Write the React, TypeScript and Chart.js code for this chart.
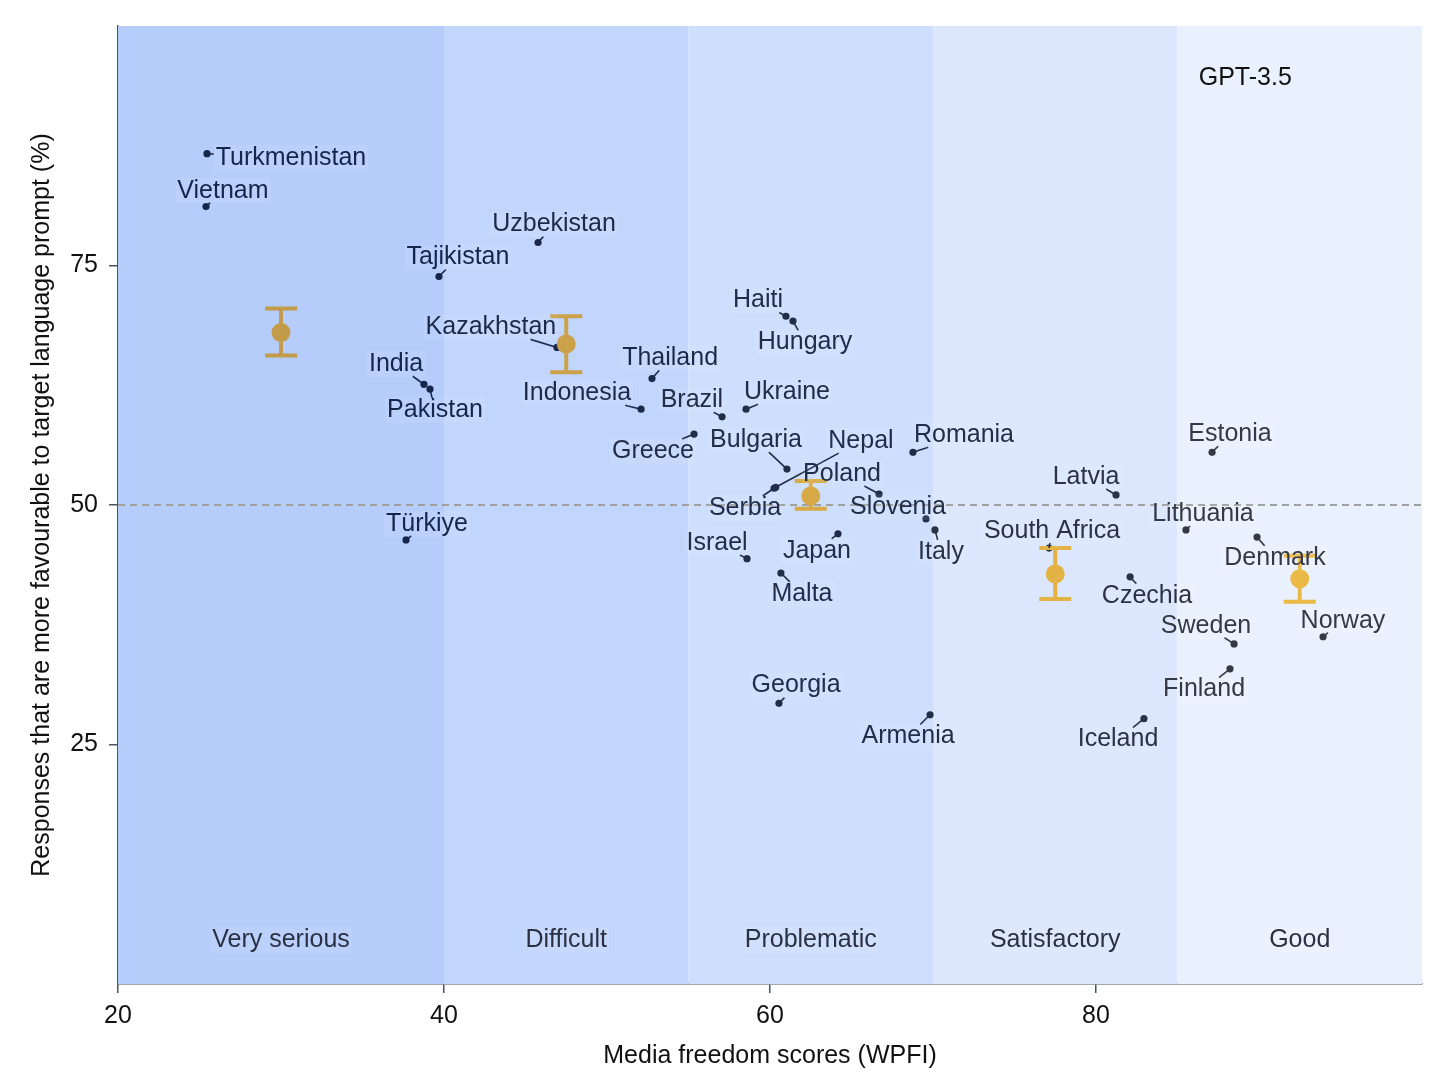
import React, { useEffect, useRef } from 'react';
import { Chart, registerables } from 'chart.js';

Chart.register(...registerables);

// ---- Data ----
const countries = [
  'Turkmenistan', 'Vietnam', 'Uzbekistan', 'Tajikistan', 'Kazakhstan', 'India', 'Pakistan',
  'Thailand', 'Indonesia', 'Brazil', 'Haiti', 'Hungary', 'Ukraine', 'Greece', 'Bulgaria',
  'Nepal', 'Serbia', 'Poland', 'Romania', 'Slovenia', 'Italy', 'Israel', 'Japan', 'Malta',
  'Georgia', 'Armenia', 'Türkiye', 'South Africa', 'Latvia', 'Estonia', 'Lithuania',
  'Denmark', 'Czechia', 'Sweden', 'Norway', 'Finland', 'Iceland',
];
const wpfi = [
  25.46, 25.40, 45.77, 39.69, 46.93, 38.77, 39.14,
  52.76, 52.09, 57.06, 60.98, 61.41, 58.53, 55.34, 61.04,
  60.35, 60.25, 66.69, 68.77, 69.57, 70.12, 58.59, 64.17, 60.67,
  60.55, 69.82, 37.67, 77.12, 81.23, 87.12, 85.52,
  89.88, 82.09, 88.47, 93.93, 88.22, 82.94,
];
const favourable = [
  86.67, 81.15, 77.40, 73.85, 66.45, 62.6, 62.1,
  63.2, 60.0, 59.2, 69.7, 69.2, 60.0, 57.4, 53.75,
  51.85, 51.75, 51.15, 55.5, 48.55, 47.4, 44.4, 47.0, 42.9,
  29.3, 28.1, 46.35, 45.5, 51.05, 55.5, 47.4,
  46.65, 42.5, 35.5, 36.25, 32.9, 27.7,
];
// label anchor (centre) for each country, in data units
const labelX = [
  30.61, 26.44, 46.75, 40.86, 42.88, 37.06, 39.45,
  53.87, 48.16, 55.21, 59.26, 62.15, 61.04, 52.82, 59.14,
  65.58, 58.47, 64.42, 71.90, 67.85, 70.49, 56.75, 62.88, 61.96,
  61.60, 68.47, 38.96, 77.30, 79.39, 88.22, 86.56,
  90.98, 83.13, 86.75, 95.15, 86.63, 81.35,
];
const labelY = [
  86.25, 82.81, 79.27, 75.83, 68.54, 64.69, 59.90,
  65.31, 61.67, 60.94, 71.35, 66.98, 61.77, 55.63, 56.77,
  56.67, 49.69, 53.23, 57.29, 49.79, 45.10, 46.04, 45.21, 40.73,
  31.15, 25.83, 48.02, 47.29, 52.92, 57.40, 49.06,
  44.48, 40.52, 37.40, 37.92, 30.73, 25.52,
];

const bandNames = ['Very serious', 'Difficult', 'Problematic', 'Satisfactory', 'Good'];
const bandStart = [20, 40, 55, 70, 85];
const bandEnd = [40, 55, 70, 85, 100];
const bandMid = [30, 47.5, 62.5, 77.5, 92.5];
const bandMean = [68.0, 66.8, 50.95, 42.8, 42.3];
const bandLow = [65.6, 63.85, 49.6, 40.2, 39.9];
const bandHigh = [70.5, 69.7, 52.5, 45.5, 44.7];
const bandLabelY = 4.6;

const xTicks = [20, 40, 60, 80];
const yTicks = [25, 50, 75];
const referenceLine = 50;
const modelName = 'GPT-3.5';
const modelNameX = 86.3;
const modelNameY = 94.6;

// ---- Styles ----
const FONT = "'Liberation Sans', Arial, Helvetica, sans-serif";
const bandColors = ['#b6ccfb', '#c2d5fc', '#cedefd', '#dce7fd', '#eaf1fe'];
const errColors = ['#c29c4a', '#cba24a', '#d8aa47', '#e3b346', '#ebb945'];
const textColors = ['#15264b', '#1b2a4b', '#222d47', '#2b3246', '#343946'];

function bandOf(x: number): number {
  for (let i = 0; i < bandStart.length; i++) {
    if (x >= bandStart[i] && x < bandEnd[i]) return i;
  }
  return bandStart.length - 1;
}

const decorPlugin = {
  id: 'decor',
  beforeDatasetsDraw(chart: any) {
    const { ctx, chartArea, scales } = chart;
    const xs = scales.x;
    const ys = scales.y;
    ctx.save();
    // bands
    for (let i = 0; i < bandNames.length; i++) {
      const x0 = xs.getPixelForValue(bandStart[i]);
      const x1 = xs.getPixelForValue(bandEnd[i]);
      ctx.fillStyle = bandColors[i];
      ctx.fillRect(x0, chartArea.top, x1 - x0, chartArea.bottom - chartArea.top);
    }
    // band labels
    ctx.font = `25px ${FONT}`;
    ctx.textAlign = 'center';
    ctx.textBaseline = 'middle';
    for (let i = 0; i < bandNames.length; i++) {
      const px = xs.getPixelForValue(bandMid[i]);
      const py = ys.getPixelForValue(bandLabelY);
      const w = ctx.measureText(bandNames[i]).width;
      ctx.fillStyle = 'rgba(255,255,255,0.08)';
      ctx.fillRect(px - w / 2 - 2, py - 13, w + 4, 26);
      ctx.fillStyle = '#2b3143';
      ctx.fillText(bandNames[i], px, py);
    }
    // reference line
    const ry = ys.getPixelForValue(referenceLine);
    ctx.strokeStyle = '#a0a0a0';
    ctx.lineWidth = 2;
    ctx.setLineDash([7, 5]);
    ctx.beginPath();
    ctx.moveTo(chartArea.left, ry);
    ctx.lineTo(chartArea.right, ry);
    ctx.stroke();
    ctx.setLineDash([]);
    // model name
    ctx.textAlign = 'left';
    ctx.fillStyle = '#111111';
    ctx.fillText(modelName, xs.getPixelForValue(modelNameX), ys.getPixelForValue(modelNameY));
    ctx.restore();
  },
  afterDatasetsDraw(chart: any) {
    const { ctx, scales } = chart;
    const xs = scales.x;
    const ys = scales.y;
    ctx.save();
    // error bars
    for (let i = 0; i < bandMid.length; i++) {
      const px = xs.getPixelForValue(bandMid[i]);
      const lo = ys.getPixelForValue(bandLow[i]);
      const hi = ys.getPixelForValue(bandHigh[i]);
      ctx.strokeStyle = errColors[i];
      ctx.lineWidth = 4;
      ctx.beginPath();
      ctx.moveTo(px, lo);
      ctx.lineTo(px, hi);
      ctx.moveTo(px - 16, lo);
      ctx.lineTo(px + 16, lo);
      ctx.moveTo(px - 16, hi);
      ctx.lineTo(px + 16, hi);
      ctx.stroke();
    }
    // leader lines + labels
    ctx.font = `25px ${FONT}`;
    ctx.textAlign = 'center';
    ctx.textBaseline = 'middle';
    const halfH = 12;
    for (let i = 0; i < countries.length; i++) {
      const b = bandOf(wpfi[i]);
      const px = xs.getPixelForValue(wpfi[i]);
      const py = ys.getPixelForValue(favourable[i]);
      const cx = xs.getPixelForValue(labelX[i]);
      const cy = ys.getPixelForValue(labelY[i]);
      const w = ctx.measureText(countries[i]).width;
      const left = cx - w / 2 - 2;
      const right = cx + w / 2 + 2;
      const top = cy - halfH;
      const bottom = cy + halfH;
      const dx = cx - px;
      const dy = cy - py;
      let tEnter = 0;
      if (dx !== 0) {
        const t1 = (left - px) / dx;
        const t2 = (right - px) / dx;
        tEnter = Math.max(tEnter, Math.min(t1, t2));
      }
      if (dy !== 0) {
        const t1 = (top - py) / dy;
        const t2 = (bottom - py) / dy;
        tEnter = Math.max(tEnter, Math.min(t1, t2));
      }
      const ex = px + dx * tEnter;
      const ey = py + dy * tEnter;
      const len = Math.hypot(ex - px, ey - py);
      if (len > 3) {
        ctx.strokeStyle = textColors[b];
        ctx.lineWidth = 1.6;
        ctx.beginPath();
        ctx.moveTo(px, py);
        ctx.lineTo(ex, ey);
        ctx.stroke();
      }
    }
    for (let i = 0; i < countries.length; i++) {
      const b = bandOf(wpfi[i]);
      const cx = xs.getPixelForValue(labelX[i]);
      const cy = ys.getPixelForValue(labelY[i]);
      const w = ctx.measureText(countries[i]).width;
      ctx.fillStyle = 'rgba(255,255,255,0.08)';
      ctx.fillRect(cx - w / 2 - 2, cy - 13, w + 4, 26);
      ctx.fillStyle = textColors[b];
      ctx.fillText(countries[i], cx, cy);
    }
    ctx.restore();
  },
};

export default function App() {
  const canvasRef = useRef<HTMLCanvasElement | null>(null);

  useEffect(() => {
    document.body.style.margin = '0';
    const canvas = canvasRef.current;
    if (!canvas) return;
    const chart = new Chart(canvas, {
      type: 'scatter',
      data: {
        datasets: [
          {
            label: 'Band mean',
            data: bandMid.map((x, i) => ({ x, y: bandMean[i] })),
            pointRadius: 9.5,
            pointBackgroundColor: errColors,
            pointBorderWidth: 0,
            showLine: false,
          },
          {
            label: 'Countries',
            data: wpfi.map((x, i) => ({ x, y: favourable[i] })),
            pointRadius: 3.6,
            pointBackgroundColor: wpfi.map((x) => textColors[bandOf(x)]),
            pointBorderWidth: 0,
            showLine: false,
          },
        ],
      },
      options: {
        responsive: false,
        animation: false,
        events: [],
        layout: { padding: { top: 24, right: 14, left: 0, bottom: 0 } },
        plugins: {
          legend: { display: false },
          tooltip: { enabled: false },
        },
        scales: {
          x: {
            type: 'linear',
            min: 20,
            max: 100,
            afterBuildTicks: (s: any) => {
              s.ticks = xTicks.map((v) => ({ value: v }));
            },
            afterFit: (s: any) => {
              s.height = 98;
            },
            ticks: {
              font: { family: FONT, size: 25 },
              color: '#111111',
              padding: 8,
              maxRotation: 0,
            },
            grid: {
              drawOnChartArea: false,
              drawTicks: true,
              tickLength: 9,
              color: '#4d5260',
              lineWidth: 1.5,
            },
            border: { display: true, color: '#4d5260', width: 1.5 },
            title: {
              display: true,
              text: 'Media freedom scores (WPFI)',
              font: { family: FONT, size: 25 },
              color: '#111111',
              padding: { top: 0, bottom: 11 },
            },
          },
          y: {
            type: 'linear',
            min: 0,
            max: 100,
            afterBuildTicks: (s: any) => {
              s.ticks = yTicks.map((v) => ({ value: v }));
            },
            afterFit: (s: any) => {
              s.width = 118;
            },
            ticks: {
              font: { family: FONT, size: 25 },
              color: '#111111',
              padding: 11,
            },
            grid: {
              drawOnChartArea: false,
              drawTicks: true,
              tickLength: 9,
              color: '#4d5260',
              lineWidth: 1.5,
            },
            border: { display: true, color: '#4d5260', width: 1.5 },
            title: {
              display: true,
              text: 'Responses that are more favourable to target language prompt (%)',
              font: { family: FONT, size: 25 },
              color: '#111111',
              padding: { top: 27, bottom: 0 },
            },
          },
        },
      },
      plugins: [decorPlugin],
    });
    return () => {
      chart.destroy();
    };
  }, []);

  return (
    <div style={{ width: 1436, height: 1082, background: '#ffffff' }}>
      <canvas ref={canvasRef} width={1436} height={1082} style={{ display: 'block', width: 1436, height: 1082 }} />
    </div>
  );
}
